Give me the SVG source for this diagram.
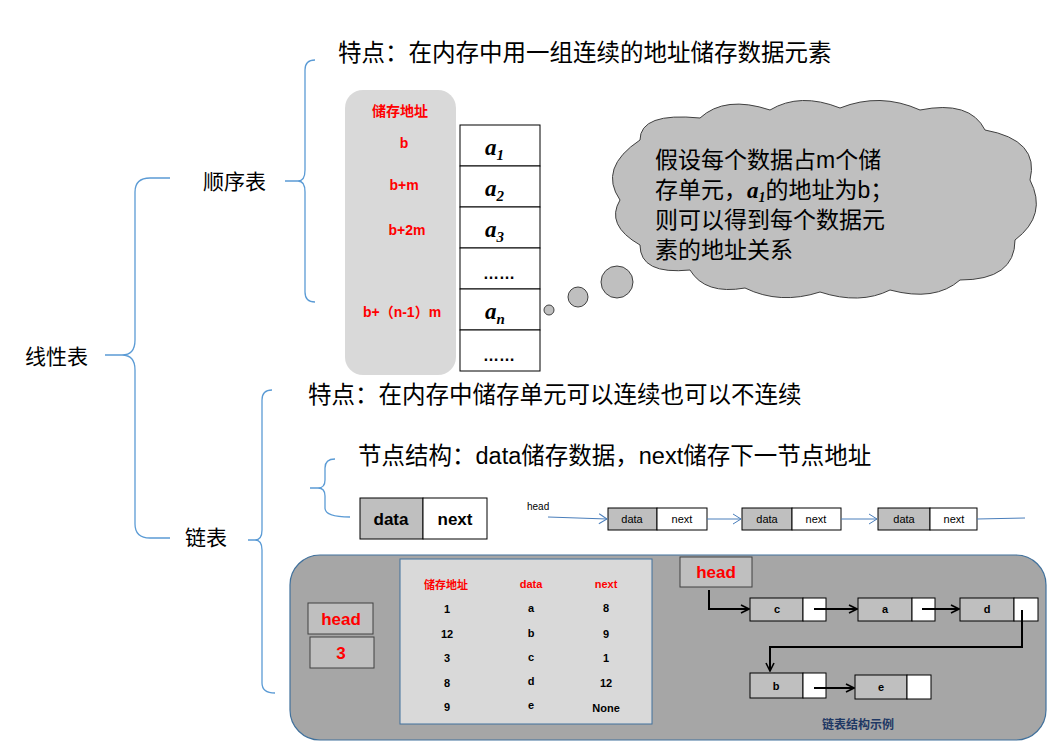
<svg xmlns="http://www.w3.org/2000/svg" width="1056" height="750" viewBox="0 0 1056 750">
<defs>
<style>
.t{font-family:"Liberation Sans","Noto Sans CJK SC",sans-serif;fill:#000}
.br{fill:none;stroke:#5b9bd5;stroke-width:1.3}
.cell{fill:#fff;stroke:#000;stroke-width:1}
.g{fill:#bfbfbf;stroke:#000;stroke-width:1}
.red{fill:#f00;font-weight:bold;font-family:"Liberation Sans","Noto Sans CJK SC",sans-serif}
.b{font-weight:bold}
.ar{fill:none;stroke:#000;stroke-width:2}
.bl{fill:none;stroke:#4a7ebb;stroke-width:1}
</style>
<marker id="ma" markerWidth="10" markerHeight="10" refX="9" refY="5" orient="auto" markerUnits="userSpaceOnUse"><path d="M1,1 L9,5 L1,9" fill="none" stroke="#000" stroke-width="1.6"/></marker>
<marker id="mb" markerWidth="10" markerHeight="12" refX="9" refY="6" orient="auto" markerUnits="userSpaceOnUse"><path d="M1,1 L9,6 L1,11" fill="none" stroke="#4a7ebb" stroke-width="1"/></marker>
</defs>
<rect width="1056" height="750" fill="#fff"/>
<g id="braces">
<path class="br" d="M105,355 H122 Q135,355 135,340 V192 Q135,178 150,178 H170 M122,355 Q135,355 135,370 V524 Q135,538 150,538 H170"/>
<path class="br" d="M285,181 H298 Q305,181 305,170 V70 Q305,60 315,60 M298,181 Q305,181 305,192 V292 Q305,302 315,302"/>
<path class="br" d="M248,540 H255 Q262,540 262,530 V400 Q262,390 272,390 M255,540 Q262,540 262,550 V683 Q262,693 275,693"/>
<path class="br" d="M310,488 H318 Q325,488 325,480 V468 Q325,459 335,459 M318,488 Q325,488 325,496 V508 Q325,517 350,517"/>
</g>
<g id="labels">
<text class="t" x="25" y="364" font-size="21">线性表</text>
<text class="t" x="203" y="189" font-size="21">顺序表</text>
<text class="t" x="185" y="545" font-size="21">链表</text>
<text class="t" x="338" y="61" font-size="23.5">特点：在内存中用一组连续的地址储存数据元素</text>
<text class="t" x="308" y="403" font-size="23.5">特点：在内存中储存单元可以连续也可以不连续</text>
<text class="t" x="358" y="464" font-size="23.5">节点结构：data储存数据，next储存下一节点地址</text>
</g>
<g id="addr">
<rect x="345" y="90" width="111" height="285" rx="18" fill="#d9d9d9"/>
<g class="red" font-size="14" text-anchor="middle">
<text x="400" y="116">储存地址</text><text x="404" y="148">b</text><text x="404" y="190">b+m</text><text x="407" y="235">b+2m</text><text x="402" y="317">b+（n-1）m</text>
</g>
</g>
<g id="cells" font-family="Liberation Serif,serif" font-weight="bold" font-style="italic">
<rect class="cell" x="460" y="125" width="80" height="41"/><rect class="cell" x="460" y="166" width="80" height="41"/><rect class="cell" x="460" y="207" width="80" height="41"/><rect class="cell" x="460" y="248" width="80" height="41"/><rect class="cell" x="460" y="289" width="80" height="41"/><rect class="cell" x="460" y="330" width="80" height="41"/>
<text x="485" y="155" font-size="23">a<tspan font-size="15" dy="5">1</tspan></text>
<text x="485" y="196" font-size="23">a<tspan font-size="15" dy="5">2</tspan></text>
<text x="485" y="237" font-size="23">a<tspan font-size="15" dy="5">3</tspan></text>
<text x="483" y="279" font-size="16" font-style="normal" font-family="Liberation Sans">……</text>
<text x="485" y="319" font-size="23">a<tspan font-size="15" dy="5">n</tspan></text>
<text x="483" y="361" font-size="16" font-style="normal" font-family="Liberation Sans">……</text>
</g>
<g id="cloud">
<path d="M640,140 Q640,112 700,118 Q725,95 770,110 Q800,92 840,108 Q880,92 920,110 Q970,100 985,130 Q1040,140 1030,180 Q1048,215 1015,240 Q1015,280 960,280 Q935,302 890,290 Q860,305 820,292 Q780,305 745,288 Q705,295 690,270 Q640,275 640,245 Q605,225 620,200 Q598,168 640,140 Z" fill="#bfbfbf" stroke="#404040" stroke-width="1"/>
<circle cx="549" cy="310" r="5" fill="#bfbfbf" stroke="#404040"/>
<circle cx="578" cy="297" r="10" fill="#bfbfbf" stroke="#404040"/>
<circle cx="617" cy="282" r="16" fill="#bfbfbf" stroke="#404040"/>
<g class="t" font-size="23">
<text x="655" y="168">假设每个数据占m个储</text>
<text x="655" y="198">存单元，<tspan font-family="Liberation Serif" font-weight="bold" font-style="italic">a<tspan font-size="14" dy="4">1</tspan></tspan><tspan dy="-4">的地址为b；</tspan></text>
<text x="655" y="228">则可以得到每个数据元</text>
<text x="655" y="258">素的地址关系</text>
</g>
</g>
<g id="node-struct">
<rect class="g" x="360" y="498" width="63" height="41"/><rect class="cell" x="423" y="498" width="64" height="41"/>
<text class="t b" x="391" y="525" font-size="17" text-anchor="middle">data</text>
<text class="t b" x="455" y="525" font-size="17" text-anchor="middle">next</text>
</g>
<g id="small-list" font-size="11">
<text class="t" x="527" y="510" font-size="10">head</text>
<rect class="g" x="608" y="508" width="49" height="22"/><rect class="cell" x="657" y="508" width="50" height="22"/>
<rect class="g" x="742" y="508" width="50" height="22"/><rect class="cell" x="792" y="508" width="49" height="22"/>
<rect class="g" x="878" y="508" width="52" height="22"/><rect class="cell" x="930" y="508" width="47" height="22"/>
<g class="t" text-anchor="middle"><text x="632" y="523">data</text><text x="682" y="523">next</text><text x="767" y="523">data</text><text x="816" y="523">next</text><text x="904" y="523">data</text><text x="954" y="523">next</text></g>
</g>
<g id="example">
<rect x="290" y="555" width="756" height="185" rx="30" fill="#a6a6a6" stroke="#41719c" stroke-width="1.2"/>
<rect x="400" y="559" width="252" height="165" fill="#d9d9d9" stroke="#41719c"/>
<rect x="308" y="603" width="65" height="31" fill="#bfbfbf" stroke="#404040"/>
<rect x="310" y="637" width="64" height="31" fill="#bfbfbf" stroke="#404040"/>
<text class="red" x="341" y="625" font-size="17" text-anchor="middle">head</text>
<text class="red" x="341" y="659" font-size="17" text-anchor="middle">3</text>
<rect x="680" y="557" width="72" height="30" fill="#bfbfbf" stroke="#404040"/>
<text class="red" x="716" y="578" font-size="17" text-anchor="middle">head</text>
<g class="red" font-size="11" text-anchor="middle"><text x="446" y="589">储存地址</text><text x="531" y="588">data</text><text x="606" y="588">next</text></g>
<g class="t b" font-size="11" text-anchor="middle">
<text x="447" y="613">1</text><text x="531" y="612">a</text><text x="606" y="612">8</text>
<text x="447" y="638">12</text><text x="531" y="637">b</text><text x="606" y="638">9</text>
<text x="447" y="662">3</text><text x="531" y="661">c</text><text x="606" y="662">1</text>
<text x="447" y="687">8</text><text x="531" y="685">d</text><text x="606" y="687">12</text>
<text x="447" y="711">9</text><text x="531" y="709">e</text><text x="606" y="712">None</text>
</g>
<rect class="g" x="750" y="598" width="53" height="23"/><rect class="cell" x="803" y="598" width="23" height="23"/>
<rect class="g" x="858" y="598" width="54" height="23"/><rect class="cell" x="912" y="598" width="23" height="23"/>
<rect class="g" x="960" y="598" width="54" height="23"/><rect class="cell" x="1014" y="598" width="24" height="23"/>
<rect class="g" x="750" y="673" width="53" height="25"/><rect class="cell" x="803" y="673" width="23" height="25"/>
<rect class="g" x="855" y="675" width="52" height="24"/><rect class="cell" x="907" y="675" width="24" height="24"/>
<g class="t b" font-size="11" text-anchor="middle"><text x="777" y="613">c</text><text x="885" y="613">a</text><text x="987" y="613">d</text><text x="776" y="690">b</text><text x="881" y="691">e</text></g>
<text x="858" y="729" font-size="12" font-weight="bold" fill="#1f3864" font-family="Liberation Sans,Noto Sans CJK SC,sans-serif" text-anchor="middle">链表结构示例</text>
</g>
<g id="connectors">
<path class="bl" d="M548,517 L607,519" marker-end="url(#mb)"/>
<path class="bl" d="M707,519 L741,519" marker-end="url(#mb)"/>
<path class="bl" d="M841,519 L877,519" marker-end="url(#mb)"/>
<path class="bl" d="M977,519 L1025,518"/>
<path class="ar" d="M709,590 V609 H749" marker-end="url(#ma)"/>
<path class="ar" d="M814,609 H857" marker-end="url(#ma)"/>
<path class="ar" d="M922,609 H959" marker-end="url(#ma)"/>
<path class="ar" d="M1022,610 V647 H770 V671" marker-end="url(#ma)"/>
<path class="ar" d="M814,688 H854" marker-end="url(#ma)"/>
</g>
</svg>
